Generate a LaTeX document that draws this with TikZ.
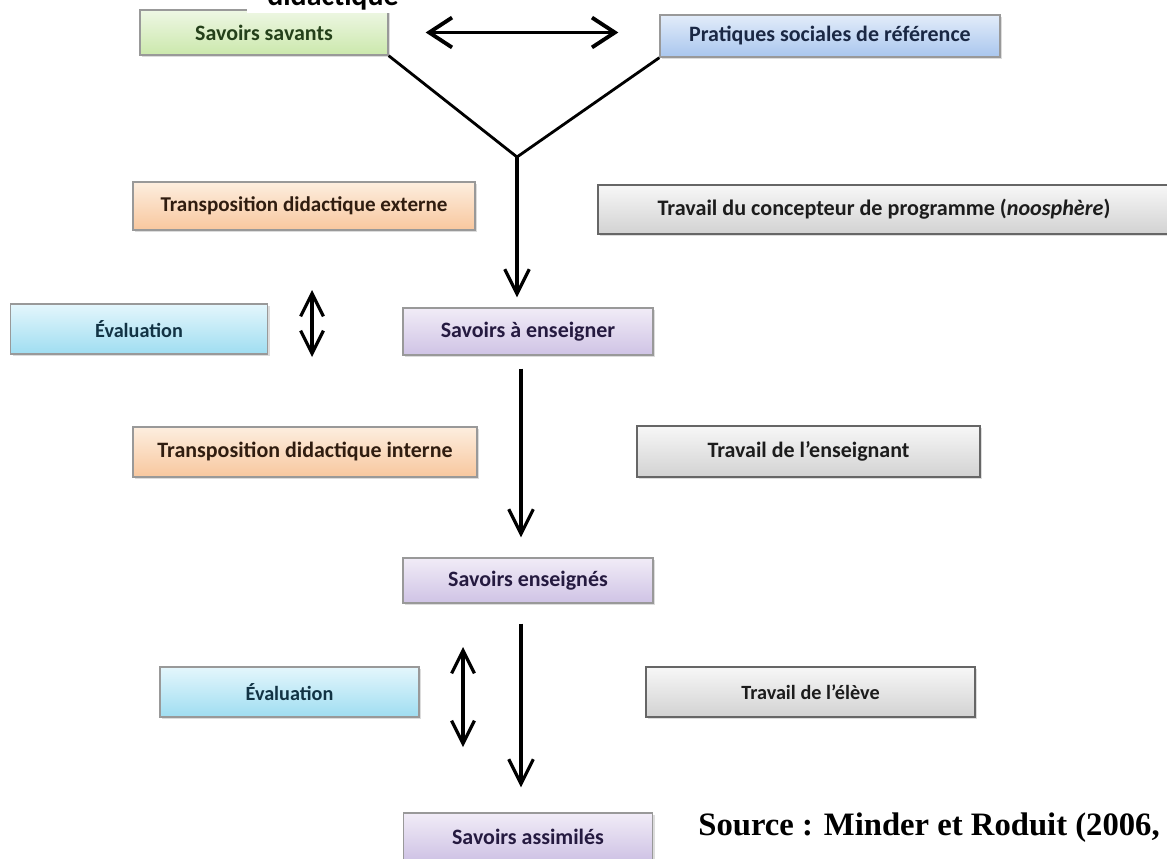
\documentclass[tikz,border=0pt]{standalone}
\usepackage{fontspec}
\setmainfont{Carlito}
\newfontfamily\srcfont{Liberation Serif}
\usetikzlibrary{arrows.meta,shadows}
\definecolor{grT}{HTML}{EEF7E4}\definecolor{grB}{HTML}{CBE8AC}
\definecolor{blT}{HTML}{E2ECF9}\definecolor{blB}{HTML}{A9C6EE}
\definecolor{orT}{HTML}{FDEEDF}\definecolor{orB}{HTML}{F8C79E}
\definecolor{gyT}{HTML}{F7F7F7}\definecolor{gyB}{HTML}{D2D2D2}
\definecolor{cyT}{HTML}{E4F6FC}\definecolor{cyB}{HTML}{9FDDF1}
\definecolor{puT}{HTML}{F1ECF7}\definecolor{puB}{HTML}{CFC3E5}
\definecolor{txtG}{HTML}{24401A}\definecolor{txtB}{HTML}{1A2844}
\definecolor{txtO}{HTML}{301D10}\definecolor{txtK}{HTML}{1C1C1C}
\definecolor{txtC}{HTML}{123344}\definecolor{txtP}{HTML}{251A40}
\begin{document}
\begin{tikzpicture}[x=0.02cm,y=-0.02cm,
  base/.style={rectangle, draw=black!40, line width=0.8pt, inner sep=0pt,
    font=\bfseries\fontsize{12.5}{14}\selectfont,
    drop shadow={shadow xshift=1.2pt, shadow yshift=-1.2pt, fill=black!30, opacity=0.45}},
  greenbox/.style={base, top color=grT, bottom color=grB, text=txtG},
  bluebox/.style={base, top color=blT, bottom color=blB, text=txtB},
  orangebox/.style={base, top color=orT, bottom color=orB, text=txtO},
  greybox/.style={base, top color=gyT, bottom color=gyB, text=txtK, draw=black!60},
  cyanbox/.style={base, top color=cyT, bottom color=cyB, text=txtC},
  purplebox/.style={base, top color=puT, bottom color=puB, text=txtP},
  smallfont/.style={font=\bfseries\fontsize{11.5}{13}\selectfont},
  conn/.style={line width=1.8pt, black},
  arr/.style={conn, -{Straight Barb[length=14pt,width=14pt]}},
  darr/.style={conn, {Straight Barb[length=13pt,width=13pt]}-{Straight Barb[length=13pt,width=13pt]}},
  hdarr/.style={line width=2.2pt, black, {Straight Barb[length=13pt,width=17pt]}-{Straight Barb[length=13pt,width=17pt]}}
]
\clip (0,0) rectangle (1167,859);
\fill[white] (0,0) rectangle (1167,859);

% boxes
\node[greenbox, minimum width=4.96cm, minimum height=0.9cm] (ss) at (264,32.5) {Savoirs savants};
\node[bluebox, minimum width=6.8cm, minimum height=0.84cm] (psr) at (830,36) {Pratiques sociales de référence};
\node[orangebox, minimum width=6.84cm, minimum height=0.96cm, font=\bfseries\fontsize{12}{14}\selectfont] (tde) at (304,206) {Transposition didactique externe};
\node[greybox, minimum width=11.44cm, minimum height=0.98cm, font=\bfseries\fontsize{12.6}{14}\selectfont] (tcp) at (884,209.5) {Travail du concepteur de programme (\textit{noosphère})};
\node[cyanbox, smallfont, minimum width=5.14cm, minimum height=1.0cm] (ev1) at (139,329) {Évaluation};
\node[purplebox, minimum width=5.0cm, minimum height=0.94cm] (sae) at (528,331.5) {Savoirs à enseigner};
\node[orangebox, minimum width=6.88cm, minimum height=1.0cm] (tdi) at (305,452) {Transposition didactique interne};
\node[greybox, minimum width=6.86cm, minimum height=1.02cm] (ten) at (808.5,451.5) {Travail de l’enseignant};
\node[purplebox, minimum width=5.0cm, minimum height=0.9cm] (se) at (528,580.5) {Savoirs enseignés};
\node[cyanbox, smallfont, minimum width=5.18cm, minimum height=1.0cm] (ev2) at (289.5,692) {Évaluation};
\node[greybox, smallfont, minimum width=6.58cm, minimum height=1.0cm] (tel) at (810.5,692) {Travail de l’élève};
\node[purplebox, minimum width=4.98cm, minimum height=0.94cm] (sa) at (528,836.5) {Savoirs assimilés};

% cut-off caption at the top
\fill[white] (247,-5) rectangle (967,13);
\node[font=\bfseries\fontsize{17}{19}\selectfont, anchor=base west, inner sep=0pt] (cap) at (267,5) {didactique};

\node[font=\srcfont\bfseries\fontsize{18.6}{22}\selectfont, anchor=base west, inner sep=0pt] (src) at (698,835) {Source : Minder et Roduit (2006,};

% connectors
\coordinate (v) at (517,157);
\coordinate (m) at (521,0);
\draw[hdarr] ([xshift=0.74cm]ss.east) -- ([xshift=-0.82cm]psr.west |- ss.east);
\draw[line width=1.6pt, line join=miter] (ss.south east) -- (v) -- (psr.south west);
\draw[arr, shorten >=0.2cm] (v) -- (v |- sae.north);
\draw[arr, shorten <=0.26cm, shorten >=0.4cm] (m |- sae.south) -- (m |- se.north);
\draw[arr, shorten <=0.4cm, shorten >=0.5cm] (m |- se.south) -- (m |- sa.north);
\coordinate (d1a) at (312,290);
\coordinate (d1b) at (312,357);
\draw[darr] (d1a) -- (d1b);
\coordinate (d2a) at (463,647);
\coordinate (d2b) at (463,747);
\draw[darr] (d2a) -- (d2b);
\end{tikzpicture}
\end{document}
